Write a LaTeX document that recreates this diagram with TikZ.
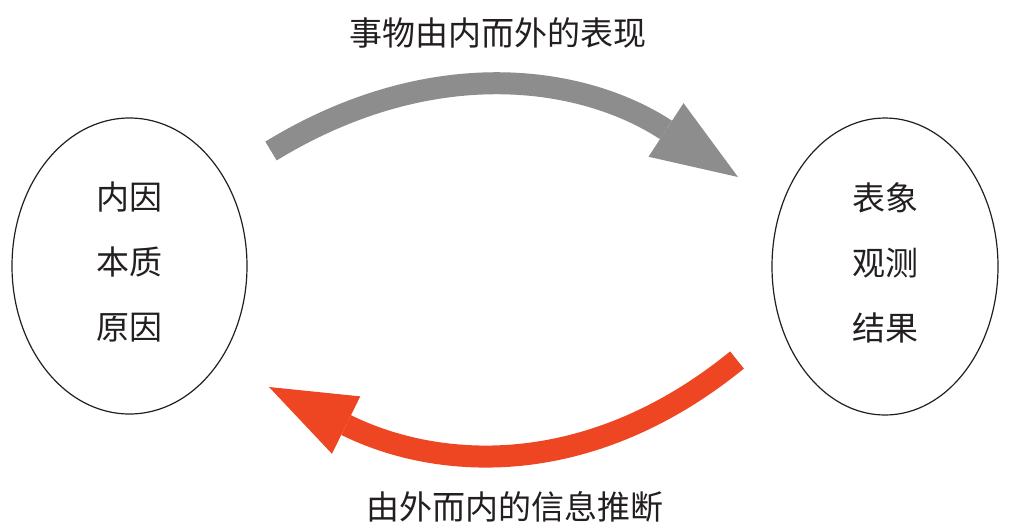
\documentclass[tikz,border=0pt]{standalone}
\usepackage{fontspec}
\setmainfont{Noto Sans CJK SC}
\usetikzlibrary{shapes.geometric,arrows.meta}
\definecolor{arrgray}{RGB}{142,141,142}
\definecolor{arrred}{RGB}{238,70,35}
\definecolor{ink}{RGB}{35,31,32}
\begin{document}
\begin{tikzpicture}[x=1pt,y=-1pt,
  oval/.style={draw=ink,line width=1.2pt,ellipse,inner sep=0pt,align=center,text=ink,
    text depth=10pt,font=\fontsize{33pt}{65pt}\selectfont},
  caption/.style={font=\fontsize{33pt}{40pt}\selectfont,inner sep=0pt,text=ink},
  bigarrow/.style={line width=22pt,-{Triangle[length=86pt,width=64pt,line width=0pt]}}]
\useasboundingbox (0,0) rectangle (1017,528);
\fill[white] (0,0) rectangle (1017,528);
\node[oval,minimum width=235pt,minimum height=296pt] (cause) at (129.5,266) {内因\\本质\\原因};
\node[oval,minimum width=226pt,minimum height=297pt] (effect) at (885,266.5) {表象\\观测\\结果};
\node[caption] (toplabel) at (498,33) {事物由内而外的表现};
\node[caption] (botlabel) at (514.5,507) {由外而内的信息推断};
\coordinate (gs) at (271,151);
\coordinate (ge) at (738,177);
\coordinate (rs) at (737,360);
\coordinate (re) at (269,387);
\draw[bigarrow,arrgray] (gs) .. controls +(159.5,-97.4) and +(-156.5,-102.3) .. (ge);
\draw[bigarrow,arrred] (rs) .. controls +(-147.4,119.9) and +(170.2,84) .. (re);
\end{tikzpicture}
\end{document}
